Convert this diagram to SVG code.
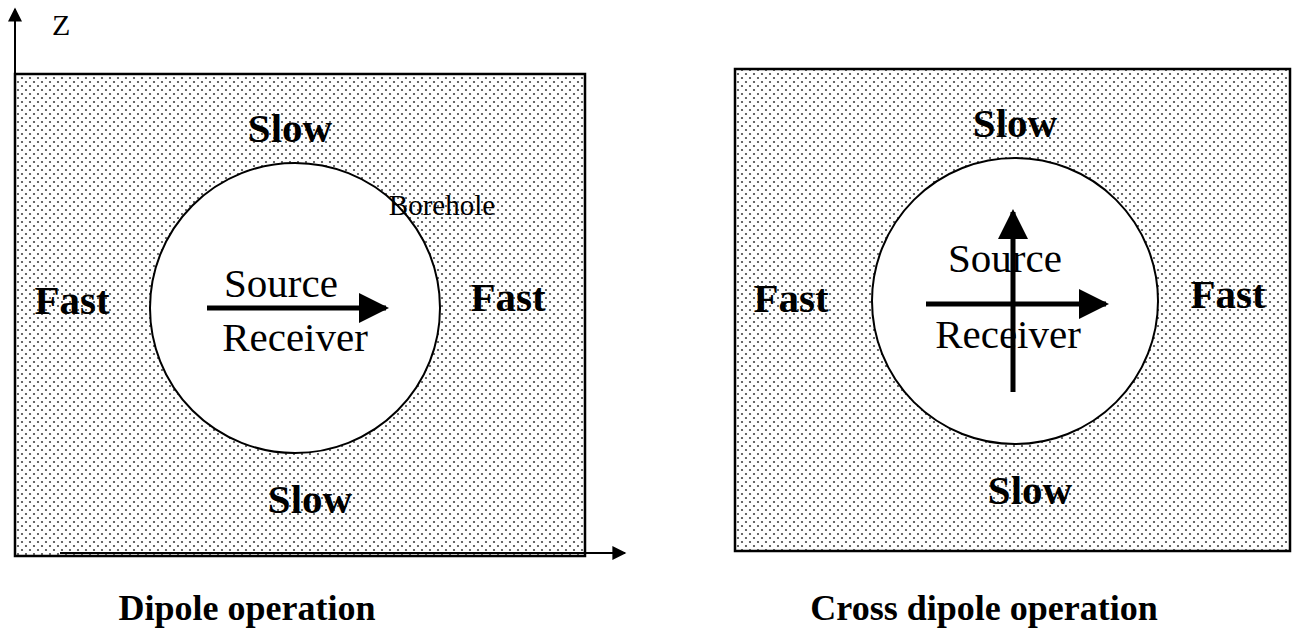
<svg xmlns="http://www.w3.org/2000/svg" width="1307" height="643" viewBox="0 0 1307 643">
<style>
.bold{font-family:"Liberation Serif","Times New Roman",serif;font-weight:bold;font-size:41px;fill:#000}
.norm{font-family:"Liberation Serif","Times New Roman",serif;font-size:41px;fill:#000}
.small{font-family:"Liberation Serif","Times New Roman",serif;font-size:29px;fill:#000}
.cap{font-family:"Liberation Serif","Times New Roman",serif;font-weight:bold;font-size:36px;fill:#000}
.box{fill:url(#dots);stroke:#000;stroke-width:2.5}
.hole{fill:#fff;stroke:#000;stroke-width:2}
.thick{stroke:#000;stroke-width:5;fill:none}
.thin{stroke:#000;stroke-width:2;fill:none}
</style>
<defs>
<pattern id="dots" width="8" height="8" patternUnits="userSpaceOnUse">
<rect width="8" height="8" fill="#fff"/>
<circle cx="2" cy="2" r="1.1" fill="#444"/>
<circle cx="6" cy="6" r="1.1" fill="#444"/>
</pattern>
<marker id="bigHead" viewBox="0 0 10 10" refX="9" refY="5" markerWidth="6" markerHeight="6" markerUnits="strokeWidth" orient="auto">
<path d="M0,0 L10,5 L0,10 Z" fill="#000"/>
</marker>
<marker id="smallHead" viewBox="0 0 10 10" refX="9" refY="5" markerWidth="8" markerHeight="7" markerUnits="strokeWidth" orient="auto">
<path d="M0,0 L10,5 L0,10 Z" fill="#000"/>
</marker>
</defs>
<g id="left-panel">
<rect class="box" x="15" y="74" width="570" height="482"/>
<circle class="hole" cx="295" cy="308" r="145"/>
<text class="bold" x="290" y="142" text-anchor="middle">Slow</text>
<text class="bold" x="72" y="314" text-anchor="middle">Fast</text>
<text class="bold" x="508" y="311" text-anchor="middle">Fast</text>
<text class="bold" x="310" y="513" text-anchor="middle">Slow</text>
<text class="small" x="442" y="215" text-anchor="middle">Borehole</text>
<text class="norm" x="281" y="297" text-anchor="middle">Source</text>
<text class="norm" x="295" y="351" text-anchor="middle">Receiver</text>
</g>
<g id="right-panel">
<rect class="box" x="735" y="69" width="555" height="482"/>
<circle class="hole" cx="1015" cy="301" r="143"/>
<text class="bold" x="1015" y="137" text-anchor="middle">Slow</text>
<text class="bold" x="791" y="312" text-anchor="middle">Fast</text>
<text class="bold" x="1228" y="308" text-anchor="middle">Fast</text>
<text class="bold" x="1030" y="504" text-anchor="middle">Slow</text>
<text class="norm" x="1005" y="272" text-anchor="middle">Source</text>
<text class="norm" x="1008" y="348" text-anchor="middle">Receiver</text>
</g>
<g id="connectors">
<line class="thin" x1="15" y1="556" x2="15" y2="9" marker-end="url(#smallHead)"/>
<line class="thin" x1="60" y1="553" x2="625" y2="553" marker-end="url(#smallHead)"/>
<line class="thick" x1="207" y1="308" x2="386" y2="308" marker-end="url(#bigHead)"/>
<line class="thick" x1="926" y1="304" x2="1106" y2="304" marker-end="url(#bigHead)"/>
<line class="thick" x1="1013" y1="392" x2="1013" y2="212" marker-end="url(#bigHead)"/>
</g>
<g id="labels">
<text class="small" x="52" y="35" style="font-size:30px">Z</text>
<text class="cap" x="247" y="620" text-anchor="middle">Dipole operation</text>
<text class="cap" x="984" y="620" text-anchor="middle">Cross dipole operation</text>
</g>
</svg>
